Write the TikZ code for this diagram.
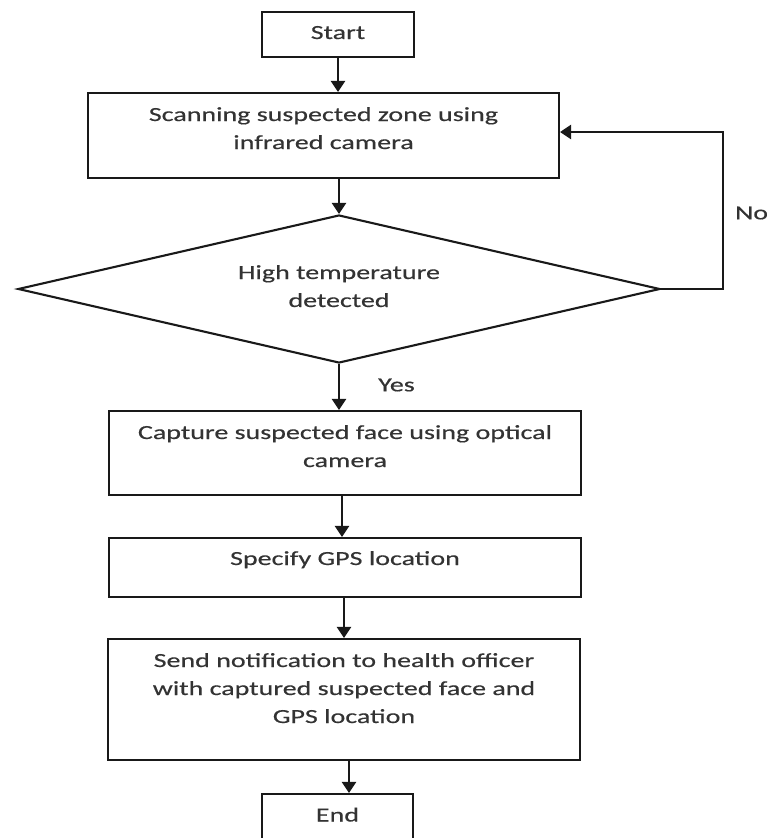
\documentclass[tikz,border=0pt]{standalone}
\usepackage{fontspec}
\setmainfont{Carlito}[FakeStretch=1.4,FakeBold=0.4]
\usetikzlibrary{shapes.geometric,arrows.meta,calc}
\begin{document}
\begin{tikzpicture}[x=1pt,y=-1pt,
  txt/.style={font=\fontsize{20pt}{28pt}\selectfont, text=black!80},
  box/.style={txt, draw=black!90, line width=2.1pt, align=center, inner sep=0pt},
  lbl/.style={txt, inner sep=0pt},
  arr/.style={draw=black!90, line width=2.3pt, -{Triangle[width=14pt,length=11pt]}}]
\useasboundingbox (0,0) rectangle (767,838);
\clip (0,0) rectangle (767,838);

\node[box, minimum width=152pt, minimum height=45pt, text height=14pt, text depth=5pt] (start) at (338,34.5) {Start};
\node[box, minimum width=471pt, minimum height=85pt, text height=42pt, text depth=15pt] (scan) at (323.5,135.5) {Scanning suspected zone using\\infrared camera};
\node[box, diamond, shape aspect=4.34, minimum width=642pt, minimum height=148pt, text height=42pt, text depth=6pt] (diam) at (339,289) {High temperature\\detected};
\node[box, minimum width=472pt, minimum height=84pt, text height=42pt, text depth=14pt] (capture) at (345,453) {Capture suspected face using optical\\camera};
\node[box, minimum width=472pt, minimum height=59pt, text height=14pt, text depth=19pt] (gps) at (345,567.5) {Specify GPS location};
\node[box, minimum width=472pt, minimum height=121pt, text height=70pt, text depth=23pt] (notify) at (344,699.5) {Send notification to health officer\\with captured suspected face and\\GPS location};
\node[box, minimum width=151pt, minimum height=46pt, text height=14pt, text depth=5pt] (end) at (337.5,817) {End};

\node[lbl, anchor=west] (no) at (735,213) {No};
\node[lbl, anchor=west] (yes) at (378,385) {Yes};

\draw[arr] (start.south) -- (start.south |- scan.north);
\draw[arr] (diam.north |- scan.south) -- (diam.north);
\draw[arr] (diam.south) -- (diam.south |- capture.north);
\coordinate (c3) at ($(capture.south)+(-3,0)$);
\draw[arr] (c3) -- (c3 |- gps.north);
\draw[arr] (notify.north |- gps.south) -- (notify.north);
\coordinate (ea) at ($(end.north)+(11.5,0)$);
\draw[arr] (ea |- notify.south) -- (ea);
\draw[arr] (diam.east) -- ++(62,0) |- ($(scan.east)+(0,-3.5)$);
\end{tikzpicture}
\end{document}
